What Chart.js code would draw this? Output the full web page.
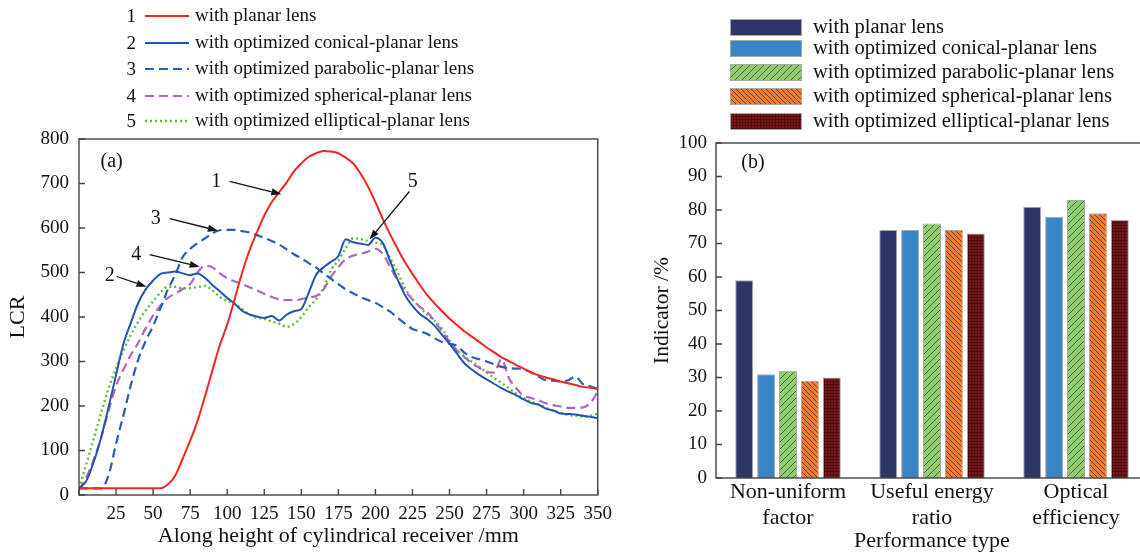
<!DOCTYPE html>
<html>
<head>
<meta charset="utf-8">
<script src="https://cdn.jsdelivr.net/npm/chart.js@4.4.1/dist/chart.umd.min.js"></script>
<style>
html, body { margin: 0; padding: 0; background: #fff; overflow: hidden; }
body { width: 1140px; height: 553px; position: relative; font-family: "Liberation Serif", serif; color: #111; }
#lcr { position: absolute; left: 0; top: 0; }
#ind { position: absolute; left: 620px; top: 0; }
.row { position: absolute; font-size: 19px; line-height: 22px; white-space: nowrap; }
#legB .row { font-size: 20.5px; }
.num { position: absolute; width: 14px; text-align: right; }
canvas.key { position: absolute; }
</style>
</head>
<body>
<canvas id="lcr" width="620" height="553"></canvas>
<canvas id="ind" width="540" height="553"></canvas>
<div id="legA"></div>
<div id="legB"></div>
<script>
// panel (a): LCR along the receiver height
const heightMm = [0,5,10,15,20,25,30,35,40,45,50,55,60,65,70,75,80,85,90,95,100,105,110,115,120,125,130,135,140,145,150,155,160,165,170,175,180,185,190,195,200,205,210,215,220,225,230,235,240,245,250,255,260,265,270,275,280,285,290,295,300,305,310,315,320,325,330,335,340,345,350];
const lcrPlanar = [15,15,15,15,15,15,15,15,15,15,15,15,24,44,82,122,167,222,280,337,383,440,499,549,590,628,658,680,702,727,745,760,768,773,772,768,758,745,722,693,658,620,585,553,523,497,472,449,430,413,396,382,368,356,344,332,321,310,301,292,284,276,269,264,260,255,251,247,243,241,238];
const lcrConical = [14,32,75,130,198,270,340,387,432,462,482,497,500,502,498,494,498,488,472,458,443,430,414,406,401,398,402,392,405,413,418,455,495,512,524,537,575,568,565,562,578,566,525,484,449,425,407,395,380,360,340,318,296,282,270,260,250,240,232,224,215,207,203,194,190,183,182,181,178,176,172];
const lcrParabolic = [15,15,15,15,45,115,180,247,305,346,380,420,462,495,535,553,566,577,588,595,596,596,593,590,584,578,571,563,552,541,532,521,511,498,486,474,462,453,445,438,432,422,412,398,385,373,368,362,352,344,340,335,320,310,305,300,294,288,285,284,283,275,266,258,257,255,258,266,249,244,239];
const lcrSpherical = [12,40,80,130,190,245,282,315,342,375,403,426,443,453,463,474,500,515,512,498,487,480,474,467,460,452,445,440,438,438,440,444,447,462,490,512,530,538,542,547,553,542,512,482,458,440,423,411,390,368,345,325,310,296,286,277,275,305,263,240,223,218,213,206,202,199,196,196,197,207,232];
const lcrElliptical = [15,70,128,185,240,285,325,360,390,415,435,455,468,468,464,465,467,470,460,445,436,430,418,406,398,396,390,385,378,384,400,422,440,465,505,527,555,577,575,571,567,562,532,500,465,440,422,405,392,373,348,325,312,300,288,276,263,252,240,228,218,210,204,196,190,185,180,178,176,178,183];

// panel (b): performance indicators (%)
const lensNames = ['with planar lens', 'with optimized conical-planar lens', 'with optimized parabolic-planar lens', 'with optimized spherical-planar lens', 'with optimized elliptical-planar lens'];
const perfTypes = [['Non-uniform', 'factor'], ['Useful energy', 'ratio'], ['Optical', 'efficiency']];
const indPlanar = [59, 74, 81];
const indConical = [31, 74, 78];
const indParabolic = [32, 76, 83];
const indSpherical = [29, 74, 79];
const indElliptical = [30, 73, 77];

const F = '"Liberation Serif", "Times New Roman", serif';
const INK = '#111';

function pts(ys) {
    return ys.map((y, i) => ({x: heightMm[i], y: y}));
}

// line styles for panel (a)
const lineStyles = [
    {color: '#f2261f', dash: [], width: 2},
    {color: '#2354b2', dash: [], width: 2},
    {color: '#2a5cb8', dash: [9, 5], width: 2.2},
    {color: '#b066c2', dash: [9, 5], width: 2.2},
    {color: '#5cbf33', dash: [2, 3], width: 2.4}
];

// pattern tiles for panel (b)
function tile(kind) {
    let c = document.createElement('canvas');
    let g = c.getContext('2d');
    if (kind === 'green') {
        c.width = c.height = 7;
        g.fillStyle = '#8fcd6e'; g.fillRect(0, 0, 7, 7);
        g.strokeStyle = '#3b4a30'; g.lineWidth = 0.8;
        g.beginPath();
        g.moveTo(0, 7); g.lineTo(7, 0);
        g.moveTo(-1, 1); g.lineTo(1, -1);
        g.moveTo(6, 8); g.lineTo(8, 6);
        g.stroke();
    } else if (kind === 'orange') {
        c.width = c.height = 5;
        g.fillStyle = '#f47b2f'; g.fillRect(0, 0, 5, 5);
        g.strokeStyle = '#4a3020'; g.lineWidth = 0.8;
        g.beginPath();
        g.moveTo(0, 0); g.lineTo(5, 5);
        g.moveTo(-1, 4); g.lineTo(1, 6);
        g.moveTo(4, -1); g.lineTo(6, 1);
        g.stroke();
    } else {
        c.width = c.height = 3;
        g.fillStyle = '#7a1a1c'; g.fillRect(0, 0, 3, 3);
        g.fillStyle = '#4e0c0e';
        g.fillRect(0, 0, 3, 1);
        g.fillRect(0, 0, 1, 3);
    }
    return c;
}
const fills = ['#2e3567', '#3a85c6', 'green', 'orange', 'red'];
function fillFor(ctx, f) {
    return f.charAt(0) === '#' ? f : ctx.createPattern(tile(f), 'repeat');
}

// box with inward tick marks
const frame = {
    id: 'frame',
    afterDatasetsDraw(chart, args, o) {
        const {ctx, chartArea: a, scales} = chart;
        ctx.save();
        ctx.strokeStyle = '#444';
        ctx.lineWidth = 1.4;
        ctx.strokeRect(a.left, a.top, a.right - a.left, a.bottom - a.top);
        ctx.beginPath();
        (o.inX ? scales.x.ticks : []).forEach((t, i) => {
            let px = scales.x.getPixelForTick(i);
            ctx.moveTo(px, a.bottom); ctx.lineTo(px, a.bottom - 6);
        });
        scales.y.ticks.forEach((t, i) => {
            let py = scales.y.getPixelForTick(i);
            ctx.moveTo(a.left, py); ctx.lineTo(a.left + 6, py);
        });
        ctx.stroke();
        ctx.restore();
    }
};

// "(a)" and the numbered arrows
const callouts = [
    {t: '1', at: [92.6, 705], from: [101.6, 705], to: [136.5, 676]},
    {t: '2', at: [20.8, 493], from: [25.5, 491], to: [45.5, 468]},
    {t: '3', at: [51.8, 621], from: [61.2, 621], to: [93.7, 594]},
    {t: '4', at: [38.7, 540], from: [47.7, 540], to: [81.4, 513]},
    {t: '5', at: [225.2, 705], from: [222.9, 682], to: [196, 574]}
];
const notesA = {
    id: 'notesA',
    afterDraw(chart) {
        const {ctx, scales: {x, y}} = chart;
        ctx.save();
        ctx.font = '20px ' + F;
        ctx.fillStyle = INK;
        ctx.strokeStyle = INK;
        ctx.textAlign = 'center';
        ctx.textBaseline = 'middle';
        ctx.fillText('(a)', x.getPixelForValue(22), y.getPixelForValue(750));
        callouts.forEach(c => {
            ctx.fillText(c.t, x.getPixelForValue(c.at[0]), y.getPixelForValue(c.at[1]));
            let x0 = x.getPixelForValue(c.from[0]), y0 = y.getPixelForValue(c.from[1]);
            let x1 = x.getPixelForValue(c.to[0]), y1 = y.getPixelForValue(c.to[1]);
            let ang = Math.atan2(y1 - y0, x1 - x0);
            let hx = x1 - 10 * Math.cos(ang), hy = y1 - 10 * Math.sin(ang);
            ctx.lineWidth = 1.3;
            ctx.beginPath(); ctx.moveTo(x0, y0); ctx.lineTo(hx, hy); ctx.stroke();
            ctx.beginPath();
            ctx.moveTo(x1, y1);
            ctx.lineTo(hx + 3.5 * Math.sin(ang), hy - 3.5 * Math.cos(ang));
            ctx.lineTo(hx - 3.5 * Math.sin(ang), hy + 3.5 * Math.cos(ang));
            ctx.closePath(); ctx.fill();
        });
        ctx.restore();
    }
};

const notesB = {
    id: 'notesB',
    afterDraw(chart) {
        const {ctx, chartArea: a} = chart;
        ctx.save();
        ctx.font = '20px ' + F;
        ctx.fillStyle = INK;
        ctx.textAlign = 'center';
        ctx.textBaseline = 'middle';
        ctx.fillText('(b)', a.left + 37, a.top + 20);
        ctx.restore();
    }
};

const tickFont = {family: F, size: 19};
const titleFont = {family: F, size: 22};

new Chart(document.getElementById('lcr'), {
    type: 'line',
    data: {
        datasets: [lcrPlanar, lcrConical, lcrParabolic, lcrSpherical, lcrElliptical].map((s, i) => ({
            label: lensNames[i],
            data: pts(s),
            borderColor: lineStyles[i].color,
            borderDash: lineStyles[i].dash,
            borderWidth: lineStyles[i].width
        }))
    },
    options: {
        responsive: false,
        animation: false,
        layout: {padding: {top: 139, right: 21, left: 0, bottom: 0}},
        elements: {point: {radius: 0}, line: {cubicInterpolationMode: 'monotone'}},
        plugins: {legend: {display: false}, tooltip: {enabled: false}, frame: {inX: true}},
        scales: {
            x: {
                type: 'linear', min: 0, max: 350,
                grid: {display: false, drawTicks: false}, border: {display: false},
                ticks: {stepSize: 25, autoSkip: false, maxRotation: 0, padding: 8, color: INK, font: tickFont,
                        callback: v => v === 0 ? '' : v},
                title: {display: true, text: 'Along height of cylindrical receiver /mm', color: INK, font: titleFont, padding: {top: 0, bottom: 4}},
                afterFit(s) { s.height = 58; }
            },
            y: {
                min: 0, max: 800,
                grid: {display: false, drawTicks: false}, border: {display: false},
                ticks: {stepSize: 100, padding: 10, color: INK, font: tickFont},
                title: {display: true, text: 'LCR', color: INK, font: titleFont, padding: {top: 5, bottom: 0}},
                afterFit(s) { s.width = 79; }
            }
        }
    },
    plugins: [frame, notesA]
});

const indCtx = document.getElementById('ind').getContext('2d');
new Chart(indCtx, {
    type: 'bar',
    data: {
        labels: perfTypes,
        datasets: [indPlanar, indConical, indParabolic, indSpherical, indElliptical].map((s, i) => ({
            label: lensNames[i],
            data: s,
            backgroundColor: fillFor(indCtx, fills[i]),
            borderColor: '#a8a8a8',
            borderWidth: 1
        }))
    },
    options: {
        responsive: false,
        animation: false,
        layout: {padding: {top: 143, right: 12, left: 0, bottom: 0}},
        datasets: {bar: {categoryPercentage: 0.76, barPercentage: 0.82}},
        plugins: {legend: {display: false}, tooltip: {enabled: false}, frame: {inX: false}},
        scales: {
            x: {
                grid: {display: false, drawTicks: false}, border: {display: false},
                ticks: {padding: 2, color: INK, font: {family: F, size: 22, lineHeight: 1.15}, maxRotation: 0},
                title: {display: true, text: 'Performance type', color: INK, font: {family: F, size: 22, lineHeight: 1.1}, padding: {top: 0, bottom: 0}},
                afterFit(s) { s.height = 75; }
            },
            y: {
                min: 0, max: 100,
                grid: {display: false, drawTicks: false}, border: {display: false},
                ticks: {stepSize: 10, padding: 9, color: INK, font: tickFont},
                title: {display: true, text: 'Indicator /%', color: INK, font: {family: F, size: 21.5}, padding: {top: 29, bottom: 0}},
                afterFit(s) { s.width = 96; }
            }
        }
    },
    plugins: [frame, notesB]
});

// legend of panel (a)
const legA = document.getElementById('legA');
const rowsA = [16, 43, 69, 96, 121];
lensNames.forEach((name, i) => {
    let num = document.createElement('div');
    num.className = 'row num';
    num.style.left = '122px';
    num.style.top = (rowsA[i] - 11) + 'px';
    num.textContent = String(i + 1);
    legA.appendChild(num);
    let k = document.createElement('canvas');
    k.className = 'key';
    k.width = 44; k.height = 6;
    k.style.left = '145px';
    k.style.top = (rowsA[i] - 3) + 'px';
    let g = k.getContext('2d');
    g.strokeStyle = lineStyles[i].color;
    g.lineWidth = lineStyles[i].width;
    g.setLineDash(lineStyles[i].dash);
    g.beginPath(); g.moveTo(0, 3); g.lineTo(44, 3); g.stroke();
    legA.appendChild(k);
    let t = document.createElement('div');
    t.className = 'row';
    t.style.left = '195px';
    t.style.top = (rowsA[i] - 12) + 'px';
    t.textContent = name;
    legA.appendChild(t);
});

// legend of panel (b)
const legB = document.getElementById('legB');
const rowsB = [27, 48, 72, 96, 121];
lensNames.forEach((name, i) => {
    let k = document.createElement('canvas');
    k.className = 'key';
    k.width = 72; k.height = 17;
    k.style.left = '730px';
    k.style.top = (rowsB[i] - 8) + 'px';
    let g = k.getContext('2d');
    g.fillStyle = fillFor(g, fills[i]);
    g.fillRect(0, 0, 72, 17);
    g.strokeStyle = '#a8a8a8';
    g.strokeRect(0.5, 0.5, 71, 16);
    legB.appendChild(k);
    let t = document.createElement('div');
    t.className = 'row';
    t.style.left = '813px';
    t.style.top = (rowsB[i] - 12) + 'px';
    t.textContent = name;
    legB.appendChild(t);
});
</script>
</body>
</html>
